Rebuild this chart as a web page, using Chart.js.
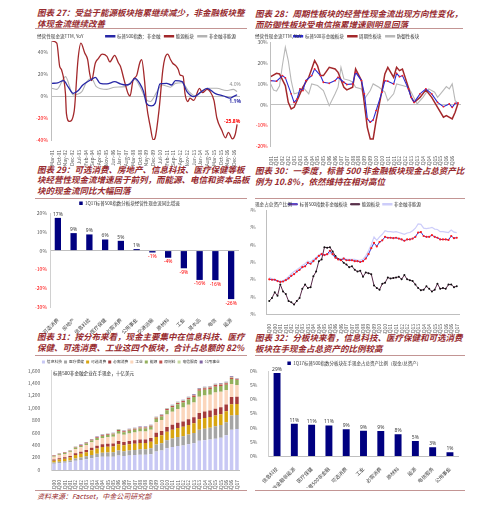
<!DOCTYPE html>
<html><head><meta charset="utf-8">
<script src="https://cdn.jsdelivr.net/npm/chart.js@4.4.0/dist/chart.umd.min.js"></script>
<style>
body{margin:0;background:#fff;width:500px;height:508px;position:relative;overflow:hidden;font-family:"Noto Sans CJK SC","Noto Sans",sans-serif;}
.t{position:absolute;font-size:8.5px;line-height:11px;color:#972a2e;font-style:italic;font-weight:bold;white-space:nowrap;}
.hr{position:absolute;height:0;border-top:1px solid #c39594;}
canvas{position:absolute;}
.n{position:absolute;font-size:4.6px;line-height:5px;color:#333;white-space:nowrap;}
.src{position:absolute;font-size:7px;line-height:8px;color:#972a2e;font-style:italic;white-space:nowrap;}
</style></head><body>

<div class="t" style="left:37px;top:7px">图表 27：受益于能源板块拖累继续减少，非金融板块整<br>体现金流继续改善</div>
<div class="hr" style="left:35px;top:28px;width:212px"></div>
<div class="t" style="left:255px;top:8px">图表 28：周期性板块的经营性现金流出现方向性变化，<br>而防御性板块受电信拖累增速则明显回落</div>
<div class="hr" style="left:255px;top:28px;width:208px"></div>

<div class="t" style="left:37px;top:163.5px;line-height:10.8px">图表 29：可选消费、房地产、信息科技、医疗保健等板<br>块经营性现金流增速居于前列，而能源、电信和资本品板<br>块的现金流同比大幅回落</div>
<div class="hr" style="left:35px;top:198px;width:212px"></div>
<div class="t" style="left:255px;top:164.5px">图表 30：一季度，标普 500 非金融板块现金占总资产比<br>例为 10.8%，依然维持在相对高位</div>
<div class="hr" style="left:255px;top:198px;width:210px"></div>

<div class="t" style="left:37px;top:330.5px;line-height:11.8px">图表 31：按分布来看，现金主要集中在信息科技、医疗<br>保健、可选消费、工业这四个板块，合计占总额的 82%</div>
<div class="hr" style="left:35px;top:355px;width:212px"></div>
<div class="t" style="left:255px;top:331.5px;line-height:11.8px">图表 32：分板块来看，信息科技、医疗保健和可选消费<br>板块在手现金占总资产的比例较高</div>
<div class="hr" style="left:255px;top:355px;width:210px"></div>

<div class="hr" style="left:35px;top:490px;width:212px"></div>
<div class="hr" style="left:255px;top:490px;width:210px"></div>
<div class="src" style="left:37px;top:492px">资料来源：Factset，中金公司研究部</div>

<canvas id="c27" width="225" height="136" style="left:20px;top:30px"></canvas>
<canvas id="c28" width="215" height="136" style="left:250px;top:30px"></canvas>
<canvas id="c29" width="225" height="135" style="left:20px;top:199px"></canvas>
<canvas id="c30" width="215" height="135" style="left:250px;top:199px"></canvas>
<canvas id="c31" width="225" height="132" style="left:20px;top:358px"></canvas>
<canvas id="c32" width="215" height="130" style="left:250px;top:358px"></canvas>

<div class="n" style="left:37px;top:33.5px">经营性现金流TTM, YoY</div>
<div class="n" style="left:255px;top:33.5px">经营性现金流TTM, YoY</div>
<div class="n" style="left:255px;top:201.8px">现金占总资产比例</div>
<div class="n" style="left:53px;top:371px;color:#222">标普500非金融企业在手现金，十亿美元</div>

<script>
// ---------- Chart 27 (months since Mar-01) ----------
const c27Ticks = ['Mar-01','Oct-01','May-02','Dec-02','Jul-03','Feb-04','Sep-04','Apr-05','Nov-05','Jun-06','Jan-07','Aug-07','Mar-08','Oct-08','May-09','Dec-09','Jul-10','Feb-11','Sep-11','Apr-12','Nov-12','Jun-13','Jan-14','Aug-14','Mar-15','Oct-15','May-16','Dec-16'];
const nonfinMonths = [0,6,12,17,22,27,32,40,45,50,57,65,71,76,81,86,91,95,98,103,107,112,119,124,128,135,140,147,154,161,169,178,185,188,192];
const nonfinYoY = [11.5,12,14,8,2.4,4.8,10,14.5,17,11.5,11,13,11,10,11,16,11.5,4,-6.7,-9,-6.7,11,11.5,10,14,13,4,-0.6,3.3,7,2.4,0,-2,-0.6,1.1];
const energyMonths = [0,5,8,10,14,15,18,23,27,30,34,37,39,41,45,48,52,57,60,65,69,71,75,79,81,84,88,91,93,96,98,102,105,107,111,115,117,120,123,125,129,131,133,136,138,141,143,147,153,156,161,164,168,171,176,180,183,187,190,192];
const energyYoY = [50,48,27,23.6,2,-16,-23,-14,33,48,39,33,21,14,30,34,38,36,31,37,30,27,14,2,0,14,19,30,33,14,-7,-28,-40,-38,-13,24,34,38,33,30,27,24,19,18,2,-5,-2,-4,7,3,6,4,-4,-20,-31,-38,-33,-39,-35,-25.8];
const exEnergyMonths = [0,5,14,22,31,36,41,46,57,65,76,86,91,98,102,109,114,123,128,135,142,149,156,161,171,181,188,192];
const exEnergyYoY = [7,6,17.6,1,4,13,16,8.5,6,8,8.5,15,9,-3.6,-5,4,10,8,11.5,12,4,0,5,7,7,5,6,4.0];

// ---------- Chart 28 (quarters since 1Q01) ----------
const c28Ticks = ['1Q01','3Q01','1Q02','3Q02','1Q03','3Q03','1Q04','3Q04','1Q05','3Q05','1Q06','3Q06','1Q07','3Q07','1Q08','3Q08','1Q09','3Q09','1Q10','3Q10','1Q11','3Q11','1Q12','3Q12','1Q13','3Q13','1Q14','3Q14','1Q15','3Q15','1Q16','3Q16'];
const spxQ = [0,2,4,5,7,8,9,10,11,12,14,15,17,18,20,22,23,25,26,28,29,31,32,33,34,35,36,38,39,40,42,43,44,45,47,48,49,51,53,55,57,59,61,62,63,64];
const spxV = [11.6,11.3,14,12.9,5.2,1.1,2.7,7.6,6.8,11.6,14,17.2,14,10.8,10.3,11.6,13.2,10.8,9.7,10,15.6,11.6,5.2,-6.9,-8.5,-7.4,-2.9,6,11.6,11.3,10,15.1,13.5,14,7.6,3.5,1.1,5.2,7.6,5.2,1.1,-1,0.3,-1.3,0.6,0.8];
const cycQ = [0,2,3,5,6,7,8,10,11,13,14,15,16,17,18,20,22,23,25,26,28,29,31,32,33,34,35,36,38,39,40,42,43,44,45,47,48,49,51,53,55,57,59,60,62,63,64];
const cycV = [13.5,15.1,14.8,9.2,1.1,-2.1,-1.3,5.2,8.4,13.2,17.2,21.3,18.8,14,14,18,17.2,15.6,8.4,7.1,8.4,17.2,11.6,0.3,-11,-16.6,-16.6,-7.7,6.8,14.8,18,13.2,18,16.4,17.2,8.4,3.5,1.1,3.5,7.1,3.5,-1.3,-6.1,-5.3,-6.9,-3.7,0.6];
const defQ = [0,1,2,3,4,5,6,7,8,10,11,13,14,16,18,20,22,23,24,25,27,28,29,31,32,34,35,37,39,40,42,43,45,47,48,50,52,54,56,57,58,60,61,62,63,64];
const defV = [10,7,6.5,9,19,27.7,21.3,11.6,5.2,6,8.4,5.2,10,9.2,6.8,-0.5,5.2,8.4,18,12.4,11.6,10.8,8.4,7.6,2.7,6.8,10,8.4,6,1.9,5.2,10,9.2,8.4,6,0.3,3.5,7.6,6,3.5,5.2,8.7,7.6,10,1.9,0.6];

// ---------- Chart 29 ----------
const sectors29 = ['可选消费','房地产','信息科技','医疗保健','必需消费','公用事业','交通运输','原材料','工业','资本品','电信','能源'];
const growth29 = [17.4,9.3,8.6,5.9,5.2,0.8,-1.0,-3.8,-9.4,-15.6,-15.7,-25.8];

// ---------- Chart 30 (quarterly 1Q00..1Q17) ----------
const halfYearTicks = ['1Q00','3Q00','1Q01','3Q01','1Q02','3Q02','1Q03','3Q03','1Q04','3Q04','1Q05','3Q05','1Q06','3Q06','1Q07','3Q07','1Q08','3Q08','1Q09','3Q09','1Q10','3Q10','1Q11','3Q11','1Q12','3Q12','1Q13','3Q13','1Q14','3Q14','1Q15','3Q15','1Q16','3Q16','1Q17'];
const cashNonfin = [6.0,5.95,5.95,5.8,5.7,5.75,5.9,6.1,6.4,6.6,6.9,7.1,7.4,7.5,7.9,7.8,8.1,8.4,8.7,8.9,8.8,8.9,9.3,8.9,8.5,8.3,8.2,8.4,8.2,8.2,8.2,8.1,8.1,8.0,8.1,8.4,8.9,9.6,10.2,9.8,10.3,10.5,10.9,10.8,10.8,10.75,10.8,10.7,10.6,10.45,10.6,10.6,10.7,10.9,11.4,11.45,11.0,10.9,10.9,11.1,10.9,10.8,10.6,10.6,10.6,10.55,11.0,10.75,10.8];
const cashEnergy = [3.5,3.85,4.5,4.1,5.4,4.6,4.3,3.5,3.35,3.1,3.5,3.85,4.9,5.4,5.0,5.1,6.35,6.9,8.1,8.3,9.7,9.65,9.7,9.2,8.7,8.35,8.27,7.9,7.7,7.4,7.5,7.1,6.9,7.0,6.3,6.8,6.7,6.6,5.3,5.0,4.8,5.5,5.6,6.2,6.1,6.15,6.2,6.3,6.0,6.5,6.0,5.9,5.8,5.4,5.0,4.75,4.8,5.2,4.9,4.6,4.8,5.5,4.9,5.0,4.9,5.4,5.4,5.1,5.2];
const cashExEnergy = [6.2,6.05,6.0,5.85,5.75,5.85,6.05,6.3,6.65,6.9,7.1,7.35,7.6,7.8,8.1,8.0,8.3,8.5,8.8,9.0,8.8,8.85,9.1,8.8,8.5,8.4,8.3,8.5,8.3,8.3,8.3,8.3,8.2,8.2,8.3,8.7,9.3,10.0,10.9,10.5,10.9,11.2,11.6,11.5,11.5,11.45,11.5,11.4,11.3,11.2,11.35,11.4,11.6,11.9,12.4,12.35,11.9,11.85,11.9,12.0,11.8,11.75,11.5,11.5,11.45,11.4,11.7,11.45,11.4];

// ---------- Chart 31 (semiannual, billion USD) ----------
const cashIT   = [100,110,115,125,150,160,175,190,205,215,215,215,235,225,235,240,245,245,255,300,315,350,370,385,395,415,430,470,480,490,505,520,560,650,660];
const cashHC   = [20,24,27,30,36,40,45,52,58,62,66,70,78,76,80,84,88,90,95,112,118,130,138,146,150,158,165,180,185,190,198,205,210,228,225];
const cashDisc = [30,35,40,45,55,60,68,78,85,92,95,95,102,98,100,100,102,100,105,120,125,135,140,145,150,152,158,168,172,172,176,175,175,182,178];
const cashStap = [20,22,24,26,30,33,36,40,42,45,47,48,52,52,53,54,56,57,60,68,70,78,82,86,88,92,95,102,104,106,108,110,112,116,117];
const cashInd  = [45,50,52,58,68,73,80,88,95,102,105,108,118,115,120,125,130,130,135,170,178,200,208,220,225,235,240,260,260,255,260,250,230,210,190];
const cashEn   = [12,14,15,17,20,22,24,27,30,32,35,37,45,44,46,46,47,46,48,55,58,68,72,76,80,85,88,95,93,91,96,92,86,80,80];
const cashMat  = [6,7,7,8,9,10,10,11,11,12,12,12,14,14,15,15,16,16,16,18,19,21,22,23,23,23,24,25,25,25,25,25,24,22,12];
const cashTel  = [4,4,5,5,6,6,6,7,7,8,8,8,8,8,8,8,8,8,8,9,9,9,9,10,10,10,10,10,11,11,11,12,12,11,9];
const cashUtil = [3,4,5,6,6,6,6,7,7,7,7,7,8,8,8,8,8,8,8,8,8,9,9,9,9,10,10,10,10,10,11,11,11,11,9];

// ---------- Chart 32 ----------
const sectors32 = ['信息科技','非金融非能源','医疗保健','标普500非金融','可选消费','工业','必需消费','原材料','能源','电信服务','公用事业'];
const cashRatio32 = [29.3,11.4,11.0,10.8,9.4,8.9,8.8,7.7,5.3,3.1,1.3];

// ---------- helpers ----------
Chart.defaults.font.family = '"Noto Sans CJK SC","Noto Sans",sans-serif';
Chart.defaults.font.size = 5;
Chart.defaults.color = '#595959';
Chart.defaults.animation = false;
Chart.defaults.plugins.tooltip.enabled = false;

const legendFit = { id:'legendFit', afterInit(chart, a, o){ const lg = chart.legend; if(!lg) return; const f = lg.fit; lg.fit = function(){ f.call(this); if(o && o.h != null) this.height = o.h; }; } };
const endLabels = { id:'endLabels', afterDatasetsDraw(chart, a, o){ if(!o || !o.items) return; const ctx = chart.ctx; ctx.save();
  o.items.forEach(it => { const meta = chart.getDatasetMeta(it.ds); const p = meta.data[meta.data.length-1]; const d = chart.data.datasets[it.ds].data; const v = d[d.length-1].y;
    ctx.font = it.font; ctx.fillStyle = it.color; ctx.textAlign = 'center'; ctx.textBaseline = 'middle'; ctx.fillText(v.toFixed(1)+'%', p.x + it.dx, p.y + it.dy); });
  ctx.restore(); } };
const barLabels = { id:'barLabels', afterDatasetsDraw(chart, a, o){ if(!o || !o.on) return; const ctx = chart.ctx; const meta = chart.getDatasetMeta(0); const d = chart.data.datasets[0].data; ctx.save();
  ctx.font = '5px "Noto Sans","Noto Sans CJK SC",sans-serif'; ctx.textAlign = 'center';
  meta.data.forEach((b,i) => { const v = d[i]; const s = Math.round(v) + '%';
    if (v >= 0) { ctx.fillStyle = '#404040'; ctx.textBaseline = 'bottom'; ctx.fillText(s, b.x, b.y - 1); }
    else { ctx.fillStyle = '#ff0000'; ctx.textBaseline = 'top'; ctx.fillText(s, b.x, b.y + 1.5); } });
  ctx.restore(); } };
Chart.register(legendFit, endLabels, barLabels);

const W = w => s => { s.width = w; };
const H = h => s => { s.height = h; };
const pts = (xs, ys) => xs.map((x,i) => ({x, y: ys[i]}));
const negRed = c => (c.tick && c.tick.value < 0) ? '#ff0000' : '#595959';
const zeroGrid = c => (c.tick && c.tick.value === 0) ? '#bfbfbf' : 'rgba(0,0,0,0)';
const lineLegend = (pad) => ({ labels:{ boxWidth:9, boxHeight:1.2, padding:pad, font:{size:4.5}, color:'#333' } });
const base = { responsive:false, devicePixelRatio:1, animation:false };

// ---------- Chart 27 ----------
new Chart(document.getElementById('c27'), {
  type:'line',
  data:{ datasets:[
    { label:'标普500指数：非金融', data:pts(nonfinMonths, nonfinYoY), borderColor:'#2727a6', backgroundColor:'#2727a6', borderWidth:1.3, pointRadius:0, cubicInterpolationMode:'monotone' },
    { label:'能源板块', data:pts(energyMonths, energyYoY), borderColor:'#a3282b', backgroundColor:'#a3282b', borderWidth:1.3, pointRadius:0, cubicInterpolationMode:'monotone' },
    { label:'非金融非能源', data:pts(exEnergyMonths, exEnergyYoY), borderColor:'#b3b3b3', backgroundColor:'#b3b3b3', borderWidth:1.1, pointRadius:0, cubicInterpolationMode:'monotone' }
  ]},
  options:{ ...base, layout:{ padding:{ right:5 } },
    plugins:{ legend:{ align:'end', ...lineLegend(4) }, legendFit:{ h:11 },
      endLabels:{ items:[
        { ds:2, dx:-2, dy:-7, color:'#8c8c8c', font:'5px "Noto Sans",sans-serif' },
        { ds:0, dx:-2, dy:7, color:'#2727a6', font:'bold 5px "Noto Sans",sans-serif' },
        { ds:1, dx:-5, dy:-2.5, color:'#ff0000', font:'bold 5px "Noto Sans",sans-serif' } ] } },
    scales:{
      x:{ type:'linear', min:-1, max:195, afterBuildTicks: s => { s.ticks = c27Ticks.map((_,i) => ({ value:i*7 })); },
          ticks:{ autoSkip:false, minRotation:90, maxRotation:90, padding:2, callback: v => c27Ticks[v/7] },
          grid:{ display:false }, border:{ display:false }, afterFit:H(26) },
      y:{ min:-40, max:50, afterBuildTicks: s => { s.ticks = [-40,-20,0,20,40].map(v => ({ value:v })); },
          ticks:{ color:negRed, padding:3, callback: v => v + '%' },
          grid:{ color:zeroGrid, drawTicks:false }, border:{ display:true, color:'#bfbfbf' }, afterFit:W(31) }
    } }
});

// ---------- Chart 28 ----------
new Chart(document.getElementById('c28'), {
  type:'line',
  data:{ datasets:[
    { label:'标普500非金融板块', data:pts(spxQ, spxV), borderColor:'#2b2bd0', backgroundColor:'#2b2bd0', borderWidth:1.1, pointRadius:0.9, pointBackgroundColor:'#ff2020', pointBorderWidth:0 },
    { label:'周期性板块', data:pts(cycQ, cycV), borderColor:'#a3282b', backgroundColor:'#a3282b', borderWidth:1.5, pointRadius:0 },
    { label:'防御性板块', data:pts(defQ, defV), borderColor:'#b8b8b8', backgroundColor:'#b8b8b8', borderWidth:1.1, pointRadius:0 }
  ]},
  options:{ ...base, layout:{ padding:{ right:2 } },
    plugins:{ legend:lineLegend(4), legendFit:{ h:12.5 } },
    scales:{
      x:{ type:'linear', min:0, max:65, afterBuildTicks: s => { s.ticks = c28Ticks.map((_,i) => ({ value:i*2 })); },
          ticks:{ autoSkip:false, minRotation:90, maxRotation:90, padding:2, callback: v => c28Ticks[v/2] },
          grid:{ display:false }, border:{ display:false }, afterFit:H(20) },
      y:{ min:-20, max:30, ticks:{ stepSize:10, color:negRed, padding:3, callback: v => v + '%' },
          grid:{ color:zeroGrid, drawTicks:false }, border:{ display:true, color:'#bfbfbf' }, afterFit:W(20.7) }
    } }
});

// ---------- Chart 29 ----------
new Chart(document.getElementById('c29'), {
  type:'bar',
  data:{ labels:sectors29, datasets:[
    { label:'1Q17标普500指数分板块经营性现金流同比增速', data:growth29, backgroundColor:'#000080', barPercentage:0.4, categoryPercentage:1 } ]},
  options:{ ...base, layout:{ padding:{ right:6 } },
    plugins:{ legend:{ labels:{ boxWidth:3.5, boxHeight:3.5, padding:2, font:{size:4.5}, color:'#333' } }, legendFit:{ h:14 }, barLabels:{ on:true } },
    scales:{
      x:{ ticks:{ autoSkip:false, minRotation:45, maxRotation:45, padding:2, color:'#404040' }, grid:{ display:false }, border:{ display:false }, afterFit:H(27) },
      y:{ min:-30, max:20, ticks:{ stepSize:10, color:negRed, padding:3, callback: v => v + '%' },
          grid:{ color:zeroGrid, drawTicks:false }, border:{ display:true, color:'#d0d0d0' }, afterFit:W(30) }
    } }
});

// ---------- Chart 30 ----------
new Chart(document.getElementById('c30'), {
  type:'line',
  data:{ datasets:[
    { label:'标普500指数非金融板块', data:cashNonfin.map((v,i) => ({ x:i, y:v })), borderColor:'#3a3ad0', backgroundColor:'#ff1a1a', borderWidth:1, pointRadius:1.1, pointBackgroundColor:'#ff1a1a', pointBorderWidth:0 },
    { label:'能源板块', data:cashEnergy.map((v,i) => ({ x:i, y:v })), borderColor:'#5a2a4a', backgroundColor:'#111111', borderWidth:1, pointRadius:1, pointBackgroundColor:'#111111', pointBorderWidth:0 },
    { label:'非金融非能源', data:cashExEnergy.map((v,i) => ({ x:i, y:v })), borderColor:'#cdcdfa', backgroundColor:'#cdcdfa', borderWidth:1.2, pointRadius:0 }
  ]},
  options:{ ...base, layout:{ padding:{ right:5.5 } },
    plugins:{ legend:lineLegend(3), legendFit:{ h:11 } },
    scales:{
      x:{ type:'linear', min:-1, max:69, afterBuildTicks: s => { s.ticks = halfYearTicks.map((_,i) => ({ value:i*2 })); },
          ticks:{ autoSkip:false, minRotation:90, maxRotation:90, padding:2, callback: v => halfYearTicks[v/2] },
          grid:{ display:false }, border:{ display:true, color:'#bfbfbf' }, afterFit:H(20) },
      y:{ min:2, max:14, ticks:{ stepSize:2, padding:3, callback: v => v + '%' },
          grid:{ display:false }, border:{ display:true, color:'#bfbfbf' }, afterFit:W(16.5) }
    } }
});

// ---------- Chart 31 ----------
const stackDefs = [
  ['信息科技', cashIT, '#c8c8f4'], ['医疗保健', cashHC, '#a5a5a5'], ['可选消费', cashDisc, '#d8a512'],
  ['必需消费', cashStap, '#a53b3b'], ['工业', cashInd, '#fbd6bc'], ['能源', cashEn, '#93b05c'],
  ['原材料', cashMat, '#c0504d'], ['电信服务', cashTel, '#c4d79b'], ['公用事业', cashUtil, '#8064a2']
];
new Chart(document.getElementById('c31'), {
  type:'bar',
  data:{ labels:halfYearTicks, datasets: stackDefs.map(([label, data, color]) => ({ label, data, backgroundColor:color, barPercentage:0.65, categoryPercentage:1 })) },
  options:{ ...base, layout:{ padding:{ right:3.3 } },
    plugins:{ legend:{ labels:{ boxWidth:3, boxHeight:3, padding:2, font:{size:3.8}, color:'#333' } }, legendFit:{ h:12.7 } },
    scales:{
      x:{ stacked:true, ticks:{ autoSkip:false, minRotation:90, maxRotation:90, padding:2 }, grid:{ display:false }, border:{ display:true, color:'#bfbfbf' }, afterFit:H(20) },
      y:{ stacked:true, min:0, max:1600, ticks:{ stepSize:200, padding:3, callback: v => v.toLocaleString('en-US') }, grid:{ display:false }, border:{ display:true, color:'#d9d9d9' }, afterFit:W(31.3) }
    } }
});

// ---------- Chart 32 ----------
new Chart(document.getElementById('c32'), {
  type:'bar',
  data:{ labels:sectors32, datasets:[
    { label:'1Q17标普500指数分板块在手现金占总资产比例（现金/总资产）', data:cashRatio32, backgroundColor:'#000080', barPercentage:0.4, categoryPercentage:1 } ]},
  options:{ ...base, layout:{ padding:{ right:6.4 } },
    plugins:{ legend:{ labels:{ boxWidth:3.5, boxHeight:3.5, padding:3, font:{size:4.5}, color:'#333' } }, legendFit:{ h:13 }, barLabels:{ on:true } },
    scales:{
      x:{ ticks:{ autoSkip:false, minRotation:45, maxRotation:45, padding:2, color:'#404040' }, grid:{ display:false }, border:{ display:true, color:'#bfbfbf' }, afterFit:H(32) },
      y:{ min:0, max:30, ticks:{ stepSize:5, padding:3, callback: v => v + '%' }, grid:{ display:false }, border:{ display:true, color:'#d0d0d0' }, afterFit:W(18.4) }
    } }
});
</script>
</body></html>
